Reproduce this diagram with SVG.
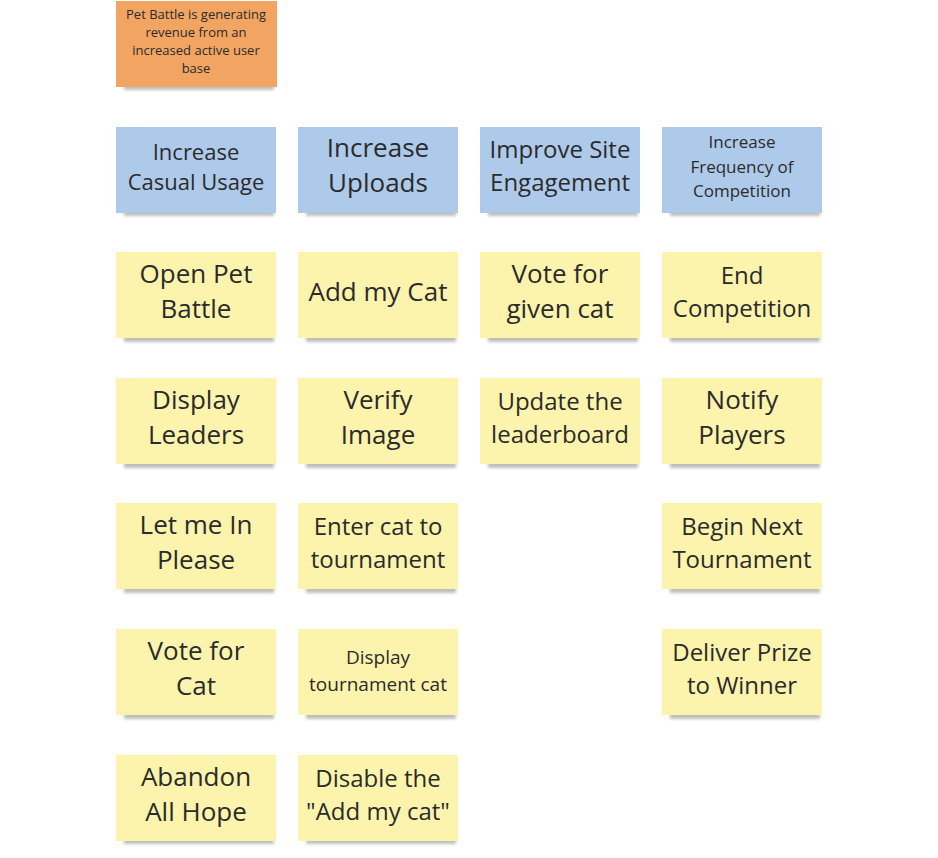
<svg xmlns="http://www.w3.org/2000/svg" width="938" height="858" viewBox="0 0 938 858">
<style>
.shadow{fill:#8a8a80;opacity:0.55;filter:url(#blur)}
.orange{fill:#f2a562}
.blue{fill:#aecaea}
.yellow{fill:#fcf4ad}
text{font-family:"Open Sans","Noto Sans","Liberation Sans",sans-serif;fill:#2b2b2b;text-anchor:middle}
</style>
<defs>
<filter id="blur" x="-10%" y="-100%" width="120%" height="300%"><feGaussianBlur stdDeviation="1.8"/></filter>
</defs>
<rect width="938" height="858" fill="#ffffff"/>
<g id="goal">
<rect class="shadow" x="124" y="83" width="150" height="7"/>
<rect class="orange" x="116" y="1" width="161" height="86"/>
<text font-size="13"><tspan x="196" y="19">Pet Battle is generating</tspan><tspan x="196" y="37">revenue from an</tspan><tspan x="196" y="55">increased active user</tspan><tspan x="196" y="73">base</tspan></text>
</g>
<g id="increase-casual-usage">
<rect class="shadow" x="124" y="209" width="150" height="7"/>
<rect class="blue" x="116" y="127" width="160" height="86"/>
<text font-size="22"><tspan x="196" y="160">Increase</tspan><tspan x="196" y="190">Casual Usage</tspan></text>
</g>
<g id="increase-uploads">
<rect class="shadow" x="306" y="209" width="150" height="7"/>
<rect class="blue" x="298" y="127" width="160" height="86"/>
<text font-size="26"><tspan x="378" y="157">Increase</tspan><tspan x="378" y="192">Uploads</tspan></text>
</g>
<g id="improve-site-engagement">
<rect class="shadow" x="488" y="209" width="150" height="7"/>
<rect class="blue" x="480" y="127" width="160" height="86"/>
<text font-size="24"><tspan x="560" y="158">Improve Site</tspan><tspan x="560" y="191">Engagement</tspan></text>
</g>
<g id="increase-frequency">
<rect class="shadow" x="670" y="209" width="150" height="7"/>
<rect class="blue" x="662" y="127" width="160" height="86"/>
<text font-size="17"><tspan x="742" y="148">Increase</tspan><tspan x="742" y="172.5">Frequency of</tspan><tspan x="742" y="197">Competition</tspan></text>
</g>
<g id="open-pet-battle">
<rect class="shadow" x="124" y="335" width="150" height="7"/>
<rect class="yellow" x="116" y="252" width="160" height="86"/>
<text font-size="26"><tspan x="196" y="283">Open Pet</tspan><tspan x="196" y="318">Battle</tspan></text>
</g>
<g id="add-my-cat">
<rect class="shadow" x="306" y="335" width="150" height="7"/>
<rect class="yellow" x="298" y="252" width="160" height="86"/>
<text font-size="26"><tspan x="378" y="301">Add my Cat</tspan></text>
</g>
<g id="vote-for-given-cat">
<rect class="shadow" x="488" y="335" width="150" height="7"/>
<rect class="yellow" x="480" y="252" width="160" height="86"/>
<text font-size="26"><tspan x="560" y="283">Vote for</tspan><tspan x="560" y="318">given cat</tspan></text>
</g>
<g id="end-competition">
<rect class="shadow" x="670" y="335" width="150" height="7"/>
<rect class="yellow" x="662" y="252" width="160" height="86"/>
<text font-size="24"><tspan x="742" y="284">End</tspan><tspan x="742" y="317">Competition</tspan></text>
</g>
<g id="display-leaders">
<rect class="shadow" x="124" y="461" width="150" height="7"/>
<rect class="yellow" x="116" y="378" width="160" height="86"/>
<text font-size="26"><tspan x="196" y="409">Display</tspan><tspan x="196" y="444">Leaders</tspan></text>
</g>
<g id="verify-image">
<rect class="shadow" x="306" y="461" width="150" height="7"/>
<rect class="yellow" x="298" y="378" width="160" height="86"/>
<text font-size="26"><tspan x="378" y="409">Verify</tspan><tspan x="378" y="444">Image</tspan></text>
</g>
<g id="update-leaderboard">
<rect class="shadow" x="488" y="461" width="150" height="7"/>
<rect class="yellow" x="480" y="378" width="160" height="86"/>
<text font-size="24"><tspan x="560" y="410">Update the</tspan><tspan x="560" y="443">leaderboard</tspan></text>
</g>
<g id="notify-players">
<rect class="shadow" x="670" y="461" width="150" height="7"/>
<rect class="yellow" x="662" y="378" width="160" height="86"/>
<text font-size="26"><tspan x="742" y="409">Notify</tspan><tspan x="742" y="444">Players</tspan></text>
</g>
<g id="let-me-in">
<rect class="shadow" x="124" y="586" width="150" height="7"/>
<rect class="yellow" x="116" y="503" width="160" height="86"/>
<text font-size="26"><tspan x="196" y="534">Let me In</tspan><tspan x="196" y="569">Please</tspan></text>
</g>
<g id="enter-cat">
<rect class="shadow" x="306" y="586" width="150" height="7"/>
<rect class="yellow" x="298" y="503" width="160" height="86"/>
<text font-size="24"><tspan x="378" y="535">Enter cat to</tspan><tspan x="378" y="568">tournament</tspan></text>
</g>
<g id="begin-next-tournament">
<rect class="shadow" x="670" y="586" width="150" height="7"/>
<rect class="yellow" x="662" y="503" width="160" height="86"/>
<text font-size="24"><tspan x="742" y="535">Begin Next</tspan><tspan x="742" y="568">Tournament</tspan></text>
</g>
<g id="vote-for-cat">
<rect class="shadow" x="124" y="712" width="150" height="7"/>
<rect class="yellow" x="116" y="629" width="160" height="86"/>
<text font-size="26"><tspan x="196" y="660">Vote for</tspan><tspan x="196" y="695">Cat</tspan></text>
</g>
<g id="display-tournament-cat">
<rect class="shadow" x="306" y="712" width="150" height="7"/>
<rect class="yellow" x="298" y="629" width="160" height="86"/>
<text font-size="19"><tspan x="378" y="664">Display</tspan><tspan x="378" y="691">tournament cat</tspan></text>
</g>
<g id="deliver-prize">
<rect class="shadow" x="670" y="712" width="150" height="7"/>
<rect class="yellow" x="662" y="629" width="160" height="86"/>
<text font-size="24"><tspan x="742" y="661">Deliver Prize</tspan><tspan x="742" y="694">to Winner</tspan></text>
</g>
<g id="abandon-all-hope">
<rect class="shadow" x="124" y="837" width="150" height="7"/>
<rect class="yellow" x="116" y="755" width="160" height="86"/>
<text font-size="26"><tspan x="196" y="786">Abandon</tspan><tspan x="196" y="821">All Hope</tspan></text>
</g>
<g id="disable-add-my-cat">
<rect class="shadow" x="306" y="837" width="150" height="7"/>
<rect class="yellow" x="298" y="755" width="160" height="86"/>
<text font-size="24"><tspan x="378" y="787">Disable the</tspan><tspan x="378" y="820">"Add my cat"</tspan></text>
</g>
<g id="connectors"></g>
</svg>
